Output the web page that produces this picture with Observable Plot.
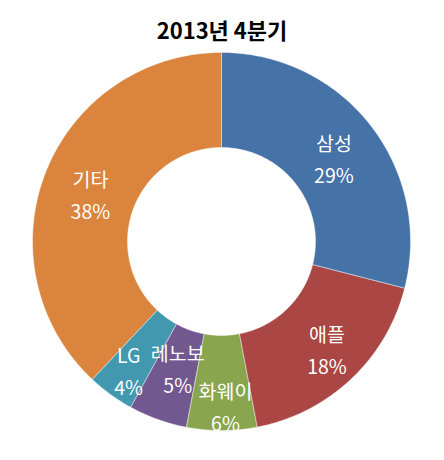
<!DOCTYPE html>
<html>
<head>
<meta charset="utf-8">
<script src="https://cdn.jsdelivr.net/npm/d3@7"></script>
<script src="https://cdn.jsdelivr.net/npm/@observablehq/plot@0.6"></script>
<style>
  body { margin: 0; background: white; overflow: hidden; }
  #title {
    width: 444px; height: 36px; padding-top: 13px; margin: 0;
    text-align: center; line-height: 32px;
    font: bold 22px "Noto Sans CJK KR", sans-serif; color: #000;
  }
  #chart { height: 411px; }
  #chart svg { display: block; overflow: visible; }
</style>
</head>
<body>
<div id="title">2013년 4분기</div>
<div id="chart"></div>
<script>
// 점유율 데이터 (2013년 4분기)
const companies = ["삼성", "애플", "화웨이", "레노보", "LG", "기타"]
const shares = [29, 18, 6, 5, 4, 38]
const colors = ["#4572A7", "#AA4643", "#89A54E", "#71588F", "#4198AF", "#DB843D"]

// 도넛 크기 (px 단위)
const rOuter = 189, rInner = 94, rLabel = 141
// 라벨 미세 조정 (엑셀 배치 흉내)
const nudge = {"삼성": [1, 2], "애플": [9, 3], "화웨이": [4, 22], "레노보": [4, -7], "LG": [-10, 13], "기타": [0, 3]}

const total = d3.sum(shares)
let acc = 0
const slices = companies.map((name, i) => {
  const a0 = acc / total * 2 * Math.PI
  acc += shares[i]
  const a1 = acc / total * 2 * Math.PI
  return {name, share: shares[i], a0, a1}
})

// 조각마다 바깥 호 -> 안쪽 호 순서로 꼭짓점
const pts = []
slices.forEach(s => {
  const n = Math.max(8, Math.ceil((s.a1 - s.a0) * 60))
  for (let k = 0; k <= n; k++) {
    const a = s.a0 + (s.a1 - s.a0) * k / n
    pts.push({name: s.name, x: rOuter * Math.sin(a), y: rOuter * Math.cos(a)})
  }
  for (let k = n; k >= 0; k--) {
    const a = s.a0 + (s.a1 - s.a0) * k / n
    pts.push({name: s.name, x: rInner * Math.sin(a), y: rInner * Math.cos(a)})
  }
})

const labels = slices.map(s => {
  const m = (s.a0 + s.a1) / 2
  const [nx, ny] = nudge[s.name]
  return {text: s.name + "\n" + s.share + "%", x: rLabel * Math.sin(m) + nx, y: rLabel * Math.cos(m) - ny}
})

let chart = Plot.plot({
  width: 444,
  height: 411,
  margin: 0,
  x: {domain: [-221, 223], axis: null},
  y: {domain: [-219, 192], axis: null},
  color: {domain: companies, range: colors},
  marks: [
    Plot.line(pts, {
      x: "x", y: "y", z: "name", fill: "name",
      curve: "linear-closed",
      stroke: "white", strokeWidth: 0.6, strokeOpacity: 0.7
    }),
    Plot.text(labels, {
      x: "x", y: "y", text: "text",
      fill: "white", fontSize: 19.5, lineHeight: 1.64,
      fontFamily: "Noto Sans CJK KR"
    })
  ]
})

d3.select('#chart').append(() => chart)
</script>
</body>
</html>
